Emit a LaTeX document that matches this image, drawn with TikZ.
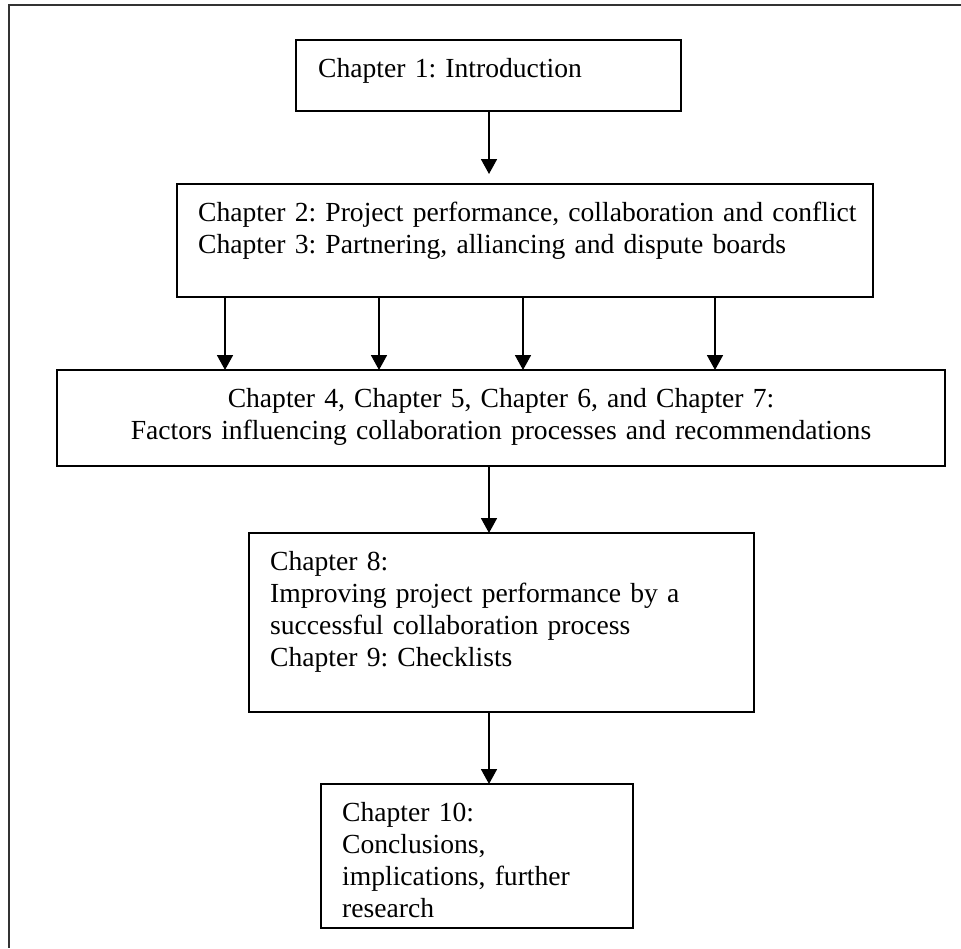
\documentclass[tikz,border=0pt]{standalone}
\usepackage{fontspec}
\setmainfont{Liberation Serif}
\usetikzlibrary{arrows.meta}
\frenchspacing
\begin{document}
\begin{tikzpicture}[x=1pt,y=-1pt,
  box/.style={draw=black, line width=2pt, rectangle, inner sep=0pt, outer sep=0pt, anchor=north west},
  txt/.style={font=\fontsize{27.6}{32}\selectfont\frenchspacing, inner sep=0pt, anchor=base west, text width=700pt, align=left},
  ctxt/.style={font=\fontsize{27.6}{32}\selectfont\frenchspacing, inner sep=0pt, anchor=base, text width=860pt, align=center},
  arr/.style={-{Triangle[width=16pt,length=15pt]}, line width=1.8pt, draw=black},
  frame/.style={line width=2pt, draw=black!80}]
\useasboundingbox (0,0) rectangle (961,948);
% outer frame (top and left edges visible)
\draw[frame] (961,5) -- (9,5) -- (9,948);
% boxes
\node[box, minimum width=385pt, minimum height=71pt]  (b1) at (296,40)  {};
\node[box, minimum width=696pt, minimum height=113pt] (b2) at (177,184) {};
\node[box, minimum width=888pt, minimum height=96pt]  (b3) at (57,370)  {};
\node[box, minimum width=505pt, minimum height=179pt] (b4) at (249,533) {};
\node[box, minimum width=312pt, minimum height=144pt] (b5) at (321,784) {};
% texts
\node[txt] (t1) at (318,77) {Chapter 1: Introduction};
\node[txt] (t2) at (198,221) {Chapter 2: Project performance, collaboration and conflict\\Chapter 3: Partnering, alliancing and dispute boards};
\node[ctxt] (t3) at (501,407) {Chapter 4, Chapter 5, Chapter 6, and Chapter 7:\\Factors influencing collaboration processes and recommendations};
\node[txt] (t4) at (270,570) {Chapter 8:\\Improving project performance by a\\successful collaboration process\\Chapter 9: Checklists};
\node[txt] (t5) at (342,821) {Chapter 10:\\Conclusions,\\implications, further\\research};
% arrow columns
\coordinate (xc) at (489,0);
\coordinate (xa) at (225,0);
\coordinate (xb) at (379,0);
\coordinate (xd) at (523,0);
\coordinate (xe) at (715,0);
% connectors
\draw[arr, shorten >=10pt] (b1.south -| xc) -- (b2.north -| xc);
\draw[arr] (b2.south -| xa) -- (b3.north -| xa);
\draw[arr] (b2.south -| xb) -- (b3.north -| xb);
\draw[arr] (b2.south -| xd) -- (b3.north -| xd);
\draw[arr] (b2.south -| xe) -- (b3.north -| xe);
\draw[arr] (b3.south -| xc) -- (b4.north -| xc);
\draw[arr] (b4.south -| xc) -- (b5.north -| xc);
\end{tikzpicture}
\end{document}
